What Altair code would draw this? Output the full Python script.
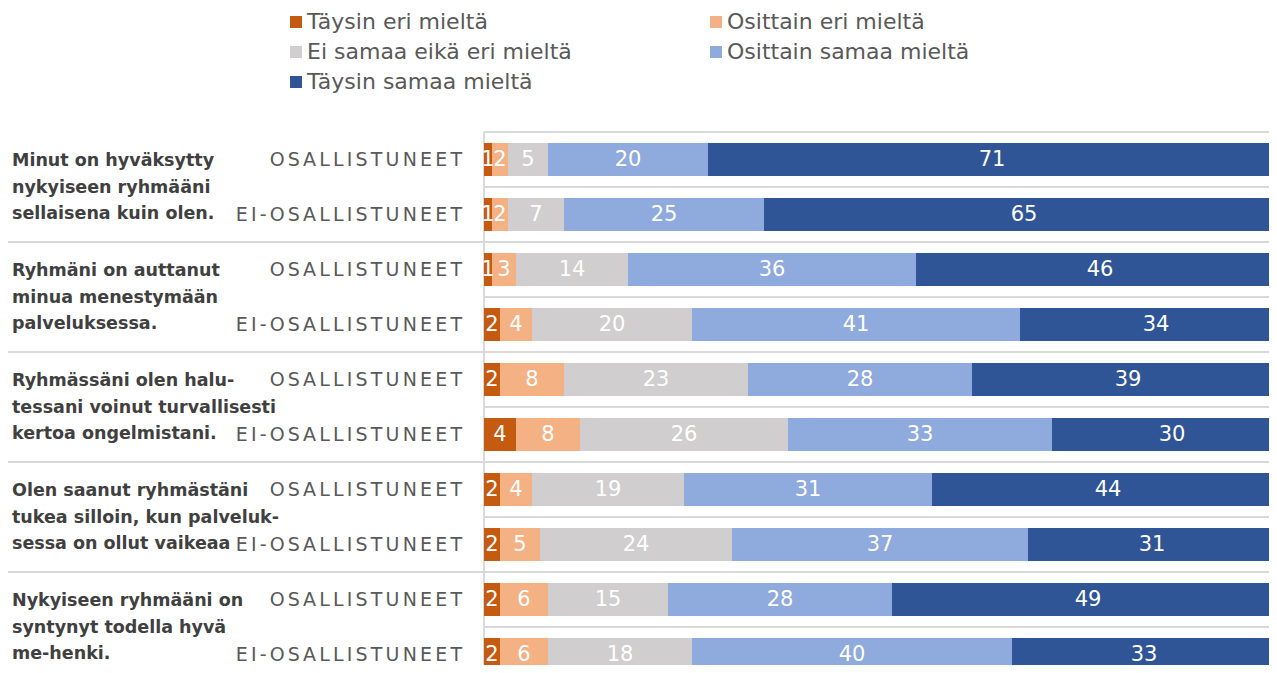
import altair as alt
import pandas as pd

categories = ["Täysin eri mieltä", "Osittain eri mieltä", "Ei samaa eikä eri mieltä",
              "Osittain samaa mieltä", "Täysin samaa mieltä"]
colors = ["#C55A11", "#F4B183", "#D0CECE", "#8FAADC", "#2F5597"]
legend_order = [categories[0], categories[2], categories[4], categories[1], categories[3]]

questions = [
    "Minut on hyväksytty\nnykyiseen ryhmääni\nsellaisena kuin olen.",
    "Ryhmäni on auttanut\nminua menestymään\npalveluksessa.",
    "Ryhmässäni olen halu-\ntessani voinut turvallisesti\nkertoa ongelmistani.",
    "Olen saanut ryhmästäni\ntukea silloin, kun palveluk-\nsessa on ollut vaikeaa",
    "Nykyiseen ryhmääni on\nsyntynyt todella hyvä\nme-henki.",
]
respondent_groups = ["OSALLISTUNEET", "EI-OSALLISTUNEET"]

taysin_eri = [1, 1, 1, 2, 2, 4, 2, 2, 2, 2]
osittain_eri = [2, 2, 3, 4, 8, 8, 4, 5, 6, 6]
ei_samaa = [5, 7, 14, 20, 23, 26, 19, 24, 15, 18]
osittain_samaa = [20, 25, 36, 41, 28, 33, 31, 37, 28, 40]
taysin_samaa = [71, 65, 46, 34, 39, 30, 44, 31, 49, 33]

series = [taysin_eri, osittain_eri, ei_samaa, osittain_samaa, taysin_samaa]

# layout constants (pixels)
ROW_PX = 55
W = 785
H = 533
PAD_L = 476
PAD_T = 124

rows = []
for r in range(10):
    for k, cat in enumerate(categories):
        rows.append({"row": r, "category": cat, "order": k, "value": series[k][r]})
bars_df = pd.DataFrame(rows)

row_labels_df = pd.DataFrame({
    "row": list(range(10)),
    "label": ["\u2006".join(respondent_groups[r % 2]) for r in range(10)],
})
q_df = pd.DataFrame({"q": list(range(5)), "text": questions})
grid_df = pd.DataFrame({"b": list(range(11))})
sep_df = pd.DataFrame({"b": [2, 4, 6, 8, 10]})

yscale = alt.Scale(domain=[0, H / ROW_PX], range=[0, H], nice=False, zero=False)
xscale = alt.Scale(domain=[0, W / 8], nice=False, zero=True)

base = alt.Chart(bars_df).transform_stack(
    stack="value", groupby=["row"], as_=["x0", "x1"],
    sort=[alt.SortField("order", "ascending")]
).transform_calculate(
    ytop="datum.row + 0.2", ybot="datum.row + 0.8", ymid="datum.row + 0.5",
    xmid="(datum.x0 + datum.x1) / 2"
)

bars = base.mark_rect().encode(
    x=alt.X("x0:Q", scale=xscale, axis=None),
    x2="x1:Q",
    y=alt.Y("ytop:Q", scale=yscale, axis=None),
    y2="ybot:Q",
    color=alt.Color("category:N", scale=alt.Scale(domain=categories, range=colors),
                    sort=categories,
                    legend=alt.Legend(title=None, orient="none", legendX=-199, legendY=-121,
                                      columns=2, columnPadding=133, rowPadding=8,
                                      values=legend_order,
                                      symbolType="square", symbolSize=144,
                                      symbolStrokeWidth=0, labelFontSize=22,
                                      labelColor="#595959", labelFont="DejaVu Sans",
                                      labelOffset=0, labelLimit=400)),
)

bar_text = base.mark_text(font="DejaVu Sans", fontSize=21, color="white",
                          baseline="middle", align="center").encode(
    x=alt.X("xmid:Q", scale=xscale, axis=None),
    y=alt.Y("ymid:Q", scale=yscale, axis=None),
    text="value:Q",
)

grid = alt.Chart(grid_df).mark_rule(color="#D9D9D9", strokeWidth=2).encode(
    x=alt.value(0), x2=alt.value(W + 10),
    y=alt.Y("b:Q", scale=yscale, axis=None),
)

seps = alt.Chart(sep_df).mark_rule(color="#D9D9D9", strokeWidth=2).encode(
    x=alt.value(-476), x2=alt.value(0),
    y=alt.Y("b:Q", scale=yscale, axis=None),
)

vaxis = alt.Chart(grid_df).mark_rule(color="#D9D9D9", strokeWidth=2).encode(
    x=alt.value(0), y=alt.value(0), y2=alt.value(H + 20),
)

row_text = alt.Chart(row_labels_df).transform_calculate(
    ymid="datum.row + 0.5"
).mark_text(font="DejaVu Sans", fontSize=19, color="#595959", align="right",
            baseline="middle").encode(
    x=alt.value(-22),
    y=alt.Y("ymid:Q", scale=yscale, axis=None),
    text="label:N",
)

q_text = alt.Chart(q_df).transform_calculate(
    yc="datum.q * 2 + 1"
).mark_text(font="DejaVu Sans", fontSize=17.5, fontWeight="bold", color="#404040",
            align="left", baseline="middle", lineBreak="\n", lineHeight=26.5,
            dy=-26).encode(
    x=alt.value(-472),
    y=alt.Y("yc:Q", scale=yscale, axis=None),
    text="text:N",
)

chart = alt.layer(grid, seps, vaxis, bars, bar_text, row_text, q_text).properties(
    width=W, height=H,
    autosize=alt.AutoSizeParams(type="none"),
    padding={"left": PAD_L, "top": PAD_T, "right": 0, "bottom": 0},
).configure_view(stroke=None)

chart.save("out.html", embed_options={"renderer": "svg", "actions": False})
